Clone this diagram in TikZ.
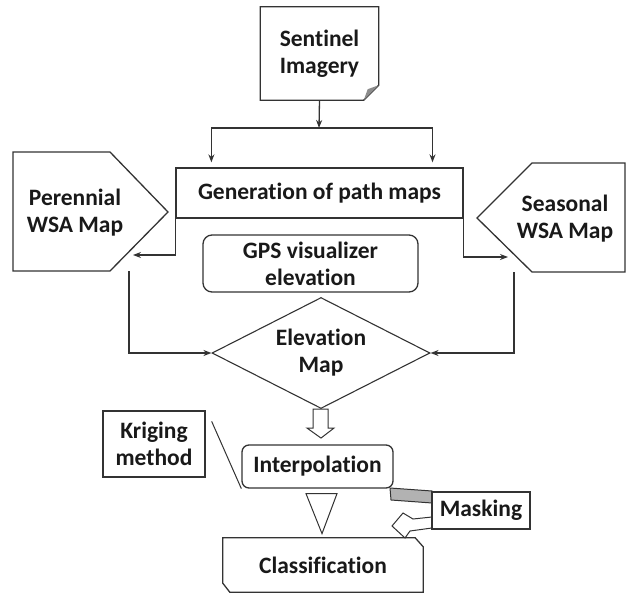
\documentclass[tikz,border=0pt]{standalone}
\usepackage{fontspec}
\setmainfont{Carlito}[Ligatures=NoCommon]
\usetikzlibrary{shapes.geometric,arrows.meta,calc}
\begin{document}
\begin{tikzpicture}[x=1pt,y=-1pt,
  line/.style={draw=black!80, line width=1.3pt},
  txt/.style={font=\bfseries\fontsize{23.5}{27}\selectfont, align=center, text=black!90, inner sep=0pt},
  arr/.style={line, -{Stealth[length=8pt,width=6pt]}},
  box/.style={txt, line, fill=white},
]
\useasboundingbox (0,0) rectangle (627,594);

% Sentinel imagery: a page with a folded corner
\node[txt, minimum width=118pt, minimum height=93pt] (sent) at (319.5,53.5) {Sentinel\\Imagery};
\draw[line] (sent.north west) -- (sent.north east) -- ($(sent.south east)+(0,-15)$)
  -- ($(sent.south east)+(-15,0)$) -- (sent.south west) -- cycle;
\fill[black!45] ($(sent.south east)+(0,-15)$) -- ($(sent.south east)+(-15,0)$) -- ($(sent.south east)+(-11,-11)$) -- cycle;

% Path map generation
\node[box, minimum width=287pt, minimum height=50pt] (gen) at (319.5,193) {Generation of path maps};

% Perennial map (pointing right)
\coordinate (pA) at (13,152);
\coordinate (pB) at (110,152);
\coordinate (pC) at (168,212);
\coordinate (pD) at (110,271);
\coordinate (pE) at (13,271);
\draw[line] (pA) -- (pB) -- (pC) -- (pD) -- (pE) -- cycle;
\node[txt] (per) at (75,213) {Perennial\\WSA Map};

% Seasonal map (pointing left)
\coordinate (sA) at (532,163);
\coordinate (sB) at (625,163);
\coordinate (sC) at (625,272);
\coordinate (sD) at (532,272);
\coordinate (sE) at (477,218);
\draw[line] (sA) -- (sB) -- (sC) -- (sD) -- (sE) -- cycle;
\node[txt] (sea) at (565,219) {Seasonal\\WSA Map};

% GPS visualizer
\node[box, rounded corners=9pt, minimum width=215pt, minimum height=57pt] (gps) at (310.5,263.5) {GPS visualizer\\elevation};

% Elevation map
\node[txt, diamond, draw=black!80, line width=1.1pt, minimum width=218pt, minimum height=111pt, aspect=1.96] (elev) at (321,353) {Elevation\\Map};

% Interpolation, kriging, masking, classification
\node[box, rounded corners=7pt, minimum width=151pt, minimum height=43pt] (interp) at (317.5,466.5) {Interpolation};
\node[box, minimum width=102pt, minimum height=66pt] (krig) at (154,444) {Kriging\\method};

% U-turn arrow behind the masking box
\coordinate (mk) at (432,510.5);
\filldraw[draw=black!80, line width=1pt, fill=black!30]
  ($(mk)+(-42,-22.5)$) -- ($(mk)+(0,-19.5)$) -- ($(mk)+(0,-7.5)$) -- ($(mk)+(-41,-10.5)$) -- cycle;
\filldraw[draw=black!80, line width=1pt, fill=white]
  ($(mk)+(0,6.5)$) -- ($(mk)+(-19,8.5)$) -- ($(mk)+(-29,2.5)$) -- ($(mk)+(-40,15.5)$)
  -- ($(mk)+(-27,27.5)$) -- ($(mk)+(-22,20.5)$) -- ($(mk)+(0,17.5)$) -- cycle;
\node[box, minimum width=98pt, minimum height=37pt] (mask) at (481,510.5) {Masking};

\node[txt, minimum width=200pt, minimum height=54pt] (cls) at (323,565) {Classification};
\draw[line] ($(cls.north west)$) -- ($(cls.north east)+(-8,0)$) -- ($(cls.north east)+(0,9)$)
  -- (cls.south east) -- ($(cls.south west)+(7,0)$) -- ($(cls.south west)+(0,-9)$) -- cycle;

% Connectors
\coordinate (split) at (319,128);
\coordinate (gl) at ($(gen.north west)!0.125!(gen.north east)$);
\coordinate (gr) at ($(gen.north west)!0.892!(gen.north east)$);
\draw[arr] (sent.south) -- (split);
\draw[arr, shorten >=5pt] (split) -| (gl);
\draw[arr, shorten >=5pt] (split) -| (gr);

\coordinate (perin) at (133,255);
\coordinate (seain) at (508,257);
\draw[arr] (gen.south west) |- (perin);
\draw[arr] (gen.south east) |- (seain);

\coordinate (perout) at (129,271);
\coordinate (seaout) at (514,272);
\draw[arr] (perout) |- (elev.west);
\draw[arr] (seaout) |- (elev.east);

% Hollow arrow from elevation map to interpolation
\draw[draw=black!80, line width=1pt, fill=white]
  ($(elev.south)+(-8,0)$) -- ($(elev.south)+(7,0)$) -- ($(elev.south)+(7,19)$) -- ($(elev.south)+(13,19)$)
  -- ($(elev.south)+(0,29)$) -- ($(elev.south)+(-14,19)$) -- ($(elev.south)+(-8,19)$) -- cycle;

% Hollow triangle from interpolation to classification
\draw[draw=black!80, line width=1pt, fill=white]
  ($(interp.south)+(-11.5,5)$) -- ($(interp.south)+(19.5,5)$) -- ($(interp.south)+(4.5,45)$) -- cycle;

% Callout line from kriging to interpolation
\draw[draw=black!80, line width=1pt] ($(krig.north east)+(6,11)$) -- (interp.south west);

\end{tikzpicture}
\end{document}
